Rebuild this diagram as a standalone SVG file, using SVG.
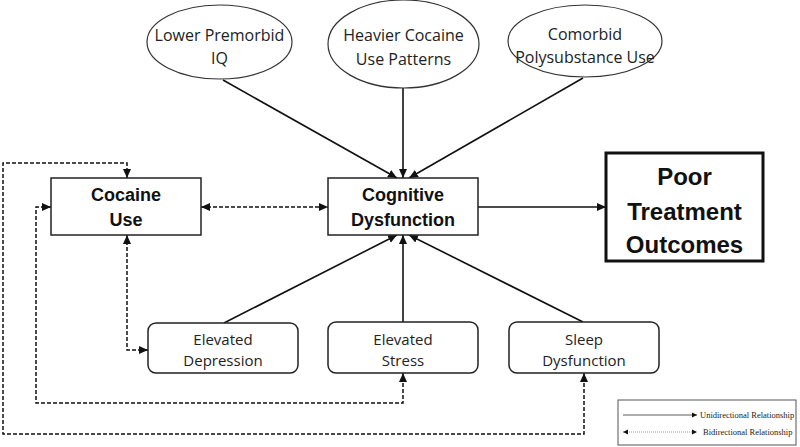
<svg xmlns="http://www.w3.org/2000/svg" width="800" height="447" viewBox="0 0 800 447">
<style>
.bg{fill:#fff}
.box{fill:#fff;stroke:#222;stroke-width:1.5}
.thick{fill:#fff;stroke:#111;stroke-width:3}
.ell{fill:#fff;stroke:#333;stroke-width:1.2}
.t{font-family:"Open Sans","Liberation Sans",sans-serif;font-size:15px;fill:#222;text-anchor:middle}
.b{font-family:"Liberation Sans",Arial,sans-serif;font-weight:bold;font-size:18px;fill:#111;text-anchor:middle}
.bb{font-family:"Liberation Sans",Arial,sans-serif;font-weight:bold;font-size:24px;fill:#111;text-anchor:middle}
.solid{fill:none;stroke:#111;stroke-width:1.6;marker-end:url(#ah)}
.dash{fill:none;stroke:#111;stroke-width:1.5;stroke-dasharray:4,2;marker-end:url(#ah);marker-start:url(#ahs)}
.lg{font-family:"Liberation Serif","Times New Roman",serif;font-size:8.5px;fill:#222}
</style>
<defs>
<marker id="ah" markerUnits="userSpaceOnUse" markerWidth="10" markerHeight="10" refX="9" refY="5" orient="auto">
<path d="M0,1 L9,5 L0,9 Z" fill="#111"/>
</marker>
<marker id="ahs" markerUnits="userSpaceOnUse" markerWidth="10" markerHeight="10" refX="9" refY="5" orient="auto-start-reverse">
<path d="M0,1 L9,5 L0,9 Z" fill="#111"/>
</marker>
<marker id="sm" markerUnits="userSpaceOnUse" markerWidth="6" markerHeight="6" refX="5" refY="3" orient="auto-start-reverse">
<path d="M0,0.5 L5,3 L0,5.5 Z" fill="#111"/>
</marker>
</defs>
<rect class="bg" x="0" y="0" width="800" height="447"/>

<g id="connectors">
<line class="solid" x1="223" y1="80" x2="397" y2="178"/>
<line class="solid" x1="403" y1="88" x2="403" y2="178"/>
<line class="solid" x1="583" y1="78" x2="409" y2="178"/>
<line class="solid" x1="224" y1="323" x2="397" y2="235"/>
<line class="solid" x1="403" y1="322" x2="403" y2="235"/>
<line class="solid" x1="583" y1="322" x2="409" y2="235"/>
<line class="solid" x1="478" y1="207" x2="606" y2="207"/>
<line class="dash" x1="201" y1="207" x2="328" y2="207"/>
<polyline class="dash" points="127,178 127,163 3,163 3,434 584,434 584,373"/>
<polyline class="dash" points="51,207 36,207 36,403 403,403 403,373"/>
<polyline class="dash" points="127,235 127,350 148,350"/>
</g>

<g id="n-iq">
<ellipse class="ell" cx="219.5" cy="42" rx="72.5" ry="37"/>
<text class="t" x="219.5" y="41" style="font-size:16px">Lower Premorbid</text>
<text class="t" x="219.5" y="64" style="font-size:16px">IQ</text>
</g>
<g id="n-heavier">
<ellipse class="ell" cx="403.5" cy="44" rx="75.5" ry="44"/>
<text class="t" x="403.5" y="41" style="font-size:16px">Heavier Cocaine</text>
<text class="t" x="403.5" y="65" style="font-size:16px">Use Patterns</text>
</g>
<g id="n-poly">
<ellipse class="ell" cx="585" cy="41" rx="77" ry="36"/>
<text class="t" x="585" y="40" style="font-size:16px">Comorbid</text>
<text class="t" x="585" y="63" style="font-size:16px">Polysubstance Use</text>
</g>

<g id="n-cocaine">
<rect class="box" x="51" y="178" width="150" height="57"/>
<text class="b" x="126" y="201">Cocaine</text>
<text class="b" x="126" y="226">Use</text>
</g>
<g id="n-cognitive">
<rect class="box" x="328" y="178" width="150" height="57"/>
<text class="b" x="403" y="201">Cognitive</text>
<text class="b" x="403" y="226">Dysfunction</text>
</g>
<g id="n-poor">
<rect class="thick" x="606" y="153" width="157" height="108"/>
<text class="bb" x="684.5" y="185">Poor</text>
<text class="bb" x="684.5" y="220">Treatment</text>
<text class="bb" x="684.5" y="253">Outcomes</text>
</g>

<g id="n-depression">
<rect class="box" x="148" y="323" width="150" height="50" rx="8"/>
<text class="t" x="223" y="345">Elevated</text>
<text class="t" x="223" y="366">Depression</text>
</g>
<g id="n-stress">
<rect class="box" x="328" y="322" width="150" height="51" rx="8"/>
<text class="t" x="403" y="345">Elevated</text>
<text class="t" x="403" y="366">Stress</text>
</g>
<g id="n-sleep">
<rect class="box" x="509" y="322" width="150" height="51" rx="8"/>
<text class="t" x="584" y="345">Sleep</text>
<text class="t" x="584" y="366">Dysfunction</text>
</g>

<g id="legend">
<rect x="618" y="400" width="178" height="45" fill="#fff" stroke="#555" stroke-width="1"/>
<line x1="623" y1="415" x2="697" y2="415" stroke="#333" stroke-width="0.8" marker-end="url(#sm)"/>
<text class="lg" x="700" y="418">Unidirectional Relationship</text>
<line x1="623" y1="432" x2="697" y2="432" stroke="#999" stroke-width="1" stroke-dasharray="1,1" marker-start="url(#sm)" marker-end="url(#sm)"/>
<text class="lg" x="703" y="435">Bidirectional Relationship</text>
</g>
</svg>
